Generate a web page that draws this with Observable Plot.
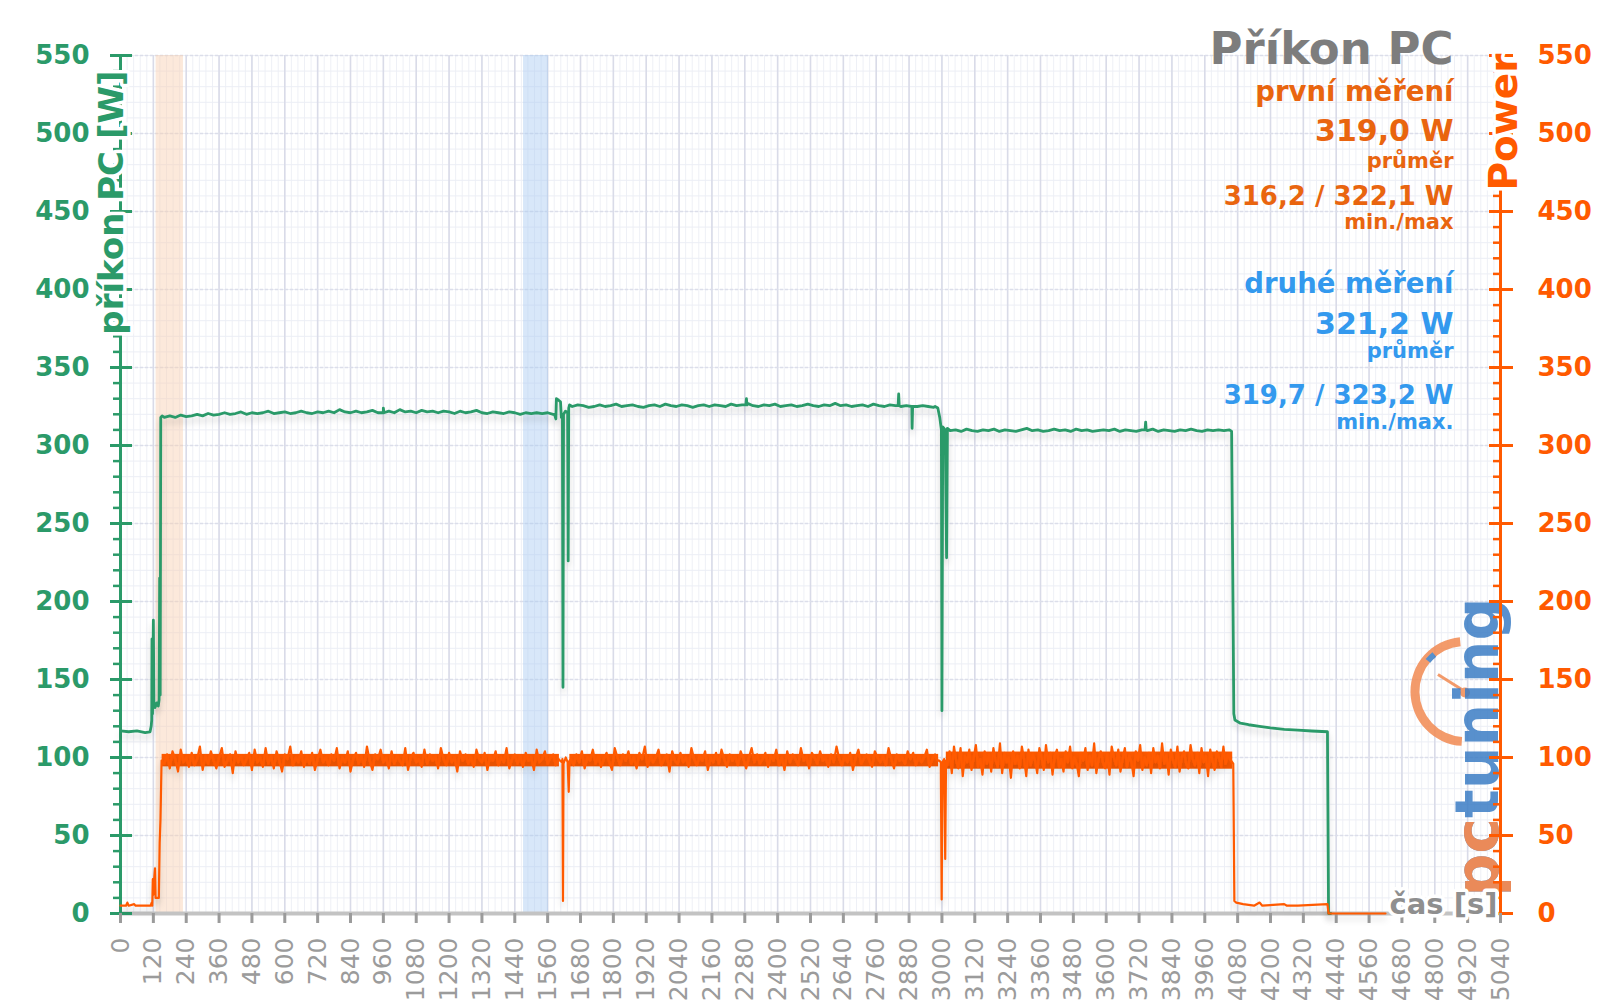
<!DOCTYPE html>
<html>
<head>
<meta charset="utf-8">
<script src="https://cdn.jsdelivr.net/npm/d3@7"></script>
<script src="https://cdn.jsdelivr.net/npm/@observablehq/plot@0.6"></script>
<style>
html, body { margin: 0; padding: 0; background: #ffffff; }
#chart svg { display: block; }
</style>
</head>
<body>
<div id="chart"></div>
<script>
// ---------- tick labels ----------
const xTicks = [0,120,240,360,480,600,720,840,960,1080,1200,1320,1440,1560,1680,1800,1920,2040,2160,2280,2400,2520,2640,2760,2880,3000,3120,3240,3360,3480,3600,3720,3840,3960,4080,4200,4320,4440,4560,4680,4800,4920,5040];
const yTicks = [0,50,100,150,200,250,300,350,400,450,500,550];

// ---------- highlighted intervals (s) ----------
const bandStarts = [130, 1472];
const bandEnds = [230, 1563];

// ---------- green series: příkon PC [W] ----------
const greenStart = [[0,117],[30,116.5],[60,117],[90,116],[108,116.5],[112,120],[114,124],[115,176],[117,128],[120,188],[122,134],[126,132],[132,135],[138,133],[141,137],[143,215],[145,140],[147,318],[152,319]];
const greenSeg1 = [318,319,318,319.5,318.5,319,320,319,320.5,319.5,
  320,321,320,320.5,321.5,320,321,320.5,321,322,
  320.5,321,321.5,320.5,321,322,321,320.5,321.5,321,
  322,321,323,321.5,321,322,321,321.5,322.5,321,
  321.5,322,321,323,321.5,322,321,322.5,321.5,322,
  321,322,321.5,320.5,322,321,321.5,322.5,321,320.5,
  321.5,321,320.5,321.5,321,320,321,320.5,321,320.5,
  321,320];
const greenEvent1 = [[1585,320],[1590,317],[1592,330],[1600,329],[1607,328],[1610,318],[1614,318],[1616,145],[1618,320],[1625,322],[1633,321],[1635,226],[1637,324],[1640,326]];
const greenSeg2 = [325,326,325.5,324.5,325,326,325,325.5,326.5,325,
  325.5,326,325,324.5,325.5,326,325,326.5,325.5,325,
  326,325.5,324.5,325.5,326,325,326,325.5,325,326.5,
  325.5,326,327,325.5,325,326,325.5,326.5,325,325.5,
  326,325,325.5,326.5,325.5,325,326,325.5,327,325.5,
  326,325,325.5,326,325,326.5,325.5,325,326,325.5,
  325,325.5,325,325,325.5,325,324.5];
const greenSpikes = [[958,321],[960,324],[962,321],[2284,326],[2286,330],[2288,326],[2840,325.5],[2842,333],[2844,325.5],[2889,325],[2891,311],[2893,325],[3742,310],[3744,315],[3746,310]];
const greenEvent2 = [[2975,325],[2985,324],[2992,318],[2998,310],[3000,130],[3003,312],[3012,310],[3017,228],[3020,311]];
const greenSeg3 = [309.5,310,309,310.5,309.5,309,310,309.5,310.5,309,
  310,309.5,309,310,311,309.5,310,309,309.5,310.5,
  309.5,310,309,310.5,309.5,310,309,309.5,310,309.5,
  310.5,309,310,309.5,309,310,309.5,310.5,309,310,
  309.5,309,310,309.5,310.5,309.5,309,310,309.5,310,
  309.5,310];
const greenTail = [[4058,309],[4063,200],[4066,128],[4070,124],[4090,122],[4120,121],[4160,120],[4200,119],[4250,118],[4300,117.5],[4350,117],[4408,116.5],[4412,0],[4420,0]];

// ---------- orange series: Power [W] ----------
const orangeStart = [[0,5],[20,5],[25,7],[30,5],[50,6],[55,5],[110,5],[114,7],[116,5],[118,22],[120,12],[122,20],[126,29],[128,10],[140,10],[143,45],[146,60],[150,98],[155,96]];
const orangeSeg1 = [96,102,93,104,99,91,105,97,100,94,
  103,95,99,107,92,101,96,104,98,93,
  100,106,94,98,102,90,104,97,101,95,
  99,103,92,105,97,100,94,106,96,101,
  93,104,98,91,102,99,107,95,100,97,
  104,94,101,96,103,92,99,105,97,100,
  95,102,98,106,93,100,97,104,91,99,
  103,96,101,94,107,98,92,102,99,105,
  97,100,93,104,96,101,98,95,106,92,
  100,103,97,99,94,105,96,102,98,101,
  93,106,99,95,103,97,100,91,104,98,
  102,96,100,94,105,99,97,103,92,101,
  98,104,95,100,97,106,93,99,102,96,
  101,94,103,98,100,92,105,97,99,104,
  96,100,102,95,99];
const orangeEvent1 = [[1605,98],[1612,97],[1614,99],[1616,8],[1618,96],[1626,100],[1633,97],[1637,78],[1640,98]];
const orangeSeg2 = [99,95,102,97,104,93,100,98,105,96,
  101,94,99,103,97,92,106,100,95,102,
  98,104,96,100,93,103,99,107,94,101,
  97,100,105,95,99,102,91,104,98,96,
  103,97,100,94,106,99,95,101,98,104,
  92,100,97,103,96,105,99,94,102,98,
  101,95,104,99,93,100,106,97,102,96,
  99,103,94,101,98,105,95,100,92,104,
  97,102,99,95,106,98,101,93,103,100,
  96,104,98,100,94,102,97,107,99,95,
  101,97,103,92,100,105,96,99,102,98,
  94,104,100,97,101,95,106,99,93,102,
  98,100,96,104,99,103,95,101,97,100,
  105,94,99,102,98];
const orangeEvent2 = [[2990,98],[2996,97],[2999,9],[3002,97],[3008,99],[3012,35],[3015,98]];
const orangeSeg3 = [95,104,90,107,98,93,106,88,101,97,
  105,92,100,108,94,99,89,104,96,102,
  91,106,98,94,109,90,103,97,100,87,
  104,96,101,93,107,99,88,105,95,102,
  98,90,106,100,92,108,97,103,89,101,
  105,94,99,91,104,97,107,93,100,96,
  88,103,98,106,92,101,95,109,90,99,
  104,97,93,102,89,107,100,95,105,91,
  99,106,94,101,97,88,104,98,108,92,
  100,95,103,90,106,97,101,93,109,96,
  102,89,105,98,94,107,91,100,104,96,
  93,108,99,95,103,90,106,97,101,88,
  105,98,92,104,100,94,107,96,102,99,
  97];
const orangeTail = [[4064,96],[4068,8],[4075,7],[4100,6],[4140,5],[4160,7],[4170,5],[4250,6],[4260,5],[4300,5],[4408,6],[4412,0],[4620,0]];
// dense core of the 1 s noise band
const orangeCoreStart = [152, 1641, 3016];
const orangeCoreEnd = [1603, 2988, 4062];
const orangeCoreLow = [94, 94, 92.5];
const orangeCoreHigh = [102, 102, 103.5];

// ---------- texts ----------
const titleText = "Příkon PC";
const firstLabel = "první měření";
const firstAvg = "319,0 W";
const avgLabel = "průměr";
const firstRange = "316,2 / 322,1 W";
const firstRangeLabel = "min./max";
const secondLabel = "druhé měření";
const secondAvg = "321,2 W";
const secondRange = "319,7 / 323,2 W";
const secondRangeLabel = "min./max.";
const yLeftLabel = "příkon PC [W]";
const yRightLabel = "Power";
const xLabel = "čas [s]";
const logoA = "pc";
const logoB = "pctuning";

// ---------- build ----------
const sampled = (start, step, values) => values.map((v, i) => ({t: start + i * step, v}));
const pairs = arr => arr.map(([t, v]) => ({t, v}));
const byT = (a, b) => a.t - b.t;

const green = [
  ...pairs(greenStart), ...sampled(160, 20, greenSeg1), ...pairs(greenEvent1),
  ...sampled(1650, 20, greenSeg2), ...pairs(greenSpikes), ...pairs(greenEvent2),
  ...sampled(3030, 20, greenSeg3), ...pairs(greenTail)
].sort(byT);
const orange = [
  ...pairs(orangeStart), ...sampled(160, 10, orangeSeg1), ...pairs(orangeEvent1),
  ...sampled(1645, 10, orangeSeg2), ...pairs(orangeEvent2),
  ...sampled(3020, 8, orangeSeg3), ...pairs(orangeTail)
].sort(byT);
const orangeCore = orangeCoreStart.map((s, i) => ({x1: s, x2: orangeCoreEnd[i], y1: orangeCoreLow[i], y2: orangeCoreHigh[i]}));
const bands = bandStarts.map((s, i) => ({start: s, end: bandEnds[i], kind: i}));

const GREEN = "#2b9a69";
const ORANGE = "#ff5a00";
const ORANGE_TXT = "#e9650f";
const BLUE_TXT = "#3399ee";
const GRAY_TXT = "#7d7d7d";
const FONT = "DejaVu Sans";

const M = {top: 55, right: 100, bottom: 95, left: 120};

function note(text, size, color, baseline) {
  return Plot.text([text], {
    frameAnchor: "top-right", textAnchor: "end", lineAnchor: "bottom",
    dx: -47, dy: baseline - M.top, fontSize: size, fontWeight: "bold", fill: color
  });
}

const noLabel = () => "";

const chart = Plot.plot({
  width: 1600,
  height: 1008,
  marginTop: M.top, marginRight: M.right, marginBottom: M.bottom, marginLeft: M.left,
  style: {fontFamily: FONT, background: "#ffffff", overflow: "visible"},
  x: {domain: [0, 5040], axis: null},
  y: {domain: [0, 550], axis: null},
  marks: [
    // minor grid
    Plot.ruleX(d3.range(24, 5040, 24), {stroke: "#eef0f6", strokeWidth: 1}),
    Plot.ruleY(d3.range(10, 551, 10), {stroke: "#eceef5", strokeWidth: 1}),
    // major grid
    Plot.ruleX(xTicks.slice(1), {stroke: "#d9dbe8", strokeWidth: 1.6}),
    Plot.ruleY(yTicks.slice(1), {stroke: "#dcdeea", strokeWidth: 1.5, strokeDasharray: "3,2"}),
    // highlighted intervals
    Plot.rect(bands, {x1: "start", x2: "end", fill: d => d.kind === 0 ? "#f9cfb0" : "#a9c9f2", fillOpacity: 0.45}),
    // logo watermark (under the axes)
    Plot.text([logoB], {frameAnchor: "bottom-right", rotate: -90, textAnchor: "start", lineAnchor: "bottom", dx: -3, dy: -17, fontSize: 60, fontWeight: "bold", fill: "#3b7dc4", fillOpacity: 0.85}),
    Plot.text([logoA], {frameAnchor: "bottom-right", rotate: -90, textAnchor: "start", lineAnchor: "bottom", dx: -3, dy: -17, fontSize: 60, fontWeight: "bold", fill: "#f28a52", fillOpacity: 0.95}),
    // axis lines
    Plot.ruleY([0], {stroke: "#c3c3c3", strokeWidth: 4}),
    Plot.ruleX([0], {stroke: GREEN, strokeWidth: 3}),
    Plot.ruleX([5040], {stroke: ORANGE, strokeWidth: 3}),
    // left axis
    Plot.axisY(d3.range(0, 551, 10), {anchor: "left", label: null, tickSize: 7, tickFormat: noLabel, color: GREEN, strokeWidth: 2.5}),
    Plot.axisY(yTicks, {anchor: "left", label: null, tickSize: -12, tickFormat: noLabel, color: GREEN, strokeWidth: 3}),
    Plot.axisY(yTicks, {anchor: "left", label: null, tickSize: 10, tickPadding: 21, color: GREEN, strokeWidth: 3, fontSize: 26, fontWeight: "bold", tickFormat: d => String(d)}),
    // right axis
    Plot.axisY(d3.range(0, 551, 10), {anchor: "right", label: null, tickSize: -8, tickFormat: noLabel, color: ORANGE, strokeWidth: 2.5}),
    Plot.axisY(yTicks, {anchor: "right", label: null, tickSize: -12, tickFormat: noLabel, color: ORANGE, strokeWidth: 3}),
    Plot.axisY(yTicks, {anchor: "right", label: null, tickSize: 12, tickPadding: 25, color: ORANGE, strokeWidth: 3, fontSize: 26, fontWeight: "bold", tickFormat: d => String(d)}),
    // bottom axis
    Plot.axisX(xTicks, {anchor: "bottom", label: null, tickSize: 10, tickPadding: 14, tickRotate: -90, color: "#9b9b9b", strokeWidth: 3, fontSize: 25, tickFormat: d => String(d)}),
    // data
    Plot.line(green, {x: "t", y: "v", stroke: GREEN, strokeWidth: 2.8}),
    Plot.rect(orangeCore, {x1: "x1", x2: "x2", y1: "y1", y2: "y2", fill: ORANGE}),
    Plot.line(orange, {x: "t", y: "v", stroke: ORANGE, strokeWidth: 2.2}),
    // axis titles
    Plot.text([yLeftLabel], {frameAnchor: "top-left", rotate: -90, textAnchor: "end", dx: -22, dy: 15, fontSize: 34, fontWeight: "bold", fill: GREEN, stroke: "#ffffff", strokeWidth: 7}),
    Plot.text([yRightLabel], {frameAnchor: "top-right", rotate: -90, textAnchor: "end", dx: -11, dy: -2, fontSize: 39, fontWeight: "bold", fill: ORANGE, stroke: "#ffffff", strokeWidth: 7}),
    Plot.text([xLabel], {frameAnchor: "bottom-right", textAnchor: "end", dx: -3, fontSize: 29, fontWeight: "bold", fill: "#8f8f8f", stroke: "#ffffff", strokeWidth: 7}),
    // title block
    note(titleText, 45, GRAY_TXT, 63),
    note(firstLabel, 27.5, ORANGE_TXT, 100),
    note(firstAvg, 30, ORANGE_TXT, 140),
    note(avgLabel, 21, ORANGE_TXT, 167),
    note(firstRange, 26, ORANGE_TXT, 204),
    note(firstRangeLabel, 21, ORANGE_TXT, 228),
    note(secondLabel, 27.5, BLUE_TXT, 292),
    note(secondAvg, 30, BLUE_TXT, 333),
    note(avgLabel, 21, BLUE_TXT, 357),
    note(secondRange, 26, BLUE_TXT, 403),
    note(secondRangeLabel, 21, BLUE_TXT, 428)
  ]
});

// subtle shadow under data lines
const defs = d3.select(chart).insert("defs", ":first-child");
const f = defs.append("filter").attr("id", "lineShadow").attr("x", "-5%").attr("y", "-20%").attr("width", "110%").attr("height", "140%");
f.append("feDropShadow").attr("dx", 0).attr("dy", 5).attr("stdDeviation", 3).attr("flood-color", "#000").attr("flood-opacity", 0.16);
d3.select(chart).selectAll('g[aria-label="line"]').attr("filter", "url(#lineShadow)");

// logo gauge (decoration), placed just before the logo text
const xs = chart.scale("x"), ys = chart.scale("y");
const cx = xs.apply(4912), cy = ys.apply(142), r = 50;
const firstText = chart.querySelector('g[aria-label="text"]');
const gauge = d3.select(chart).insert("g", () => firstText).attr("opacity", 0.85);
gauge.append("path")
  .attr("d", d3.arc()({innerRadius: r - 4.5, outerRadius: r + 4.5, startAngle: Math.PI * 1.02, endAngle: Math.PI * 1.97}))
  .attr("transform", `translate(${cx},${cy})`)
  .attr("fill", "#f28a52");
gauge.append("path")
  .attr("d", d3.arc()({innerRadius: r - 5, outerRadius: r + 1, startAngle: Math.PI * 1.72, endAngle: Math.PI * 1.78}))
  .attr("transform", `translate(${cx},${cy})`)
  .attr("fill", "#3b7dc4");
gauge.append("line").attr("x1", cx - 27).attr("y1", cy - 17).attr("x2", cx).attr("y2", cy).attr("stroke", "#f28a52").attr("stroke-width", 3);
gauge.append("circle").attr("cx", cx).attr("cy", cy + 1).attr("r", 5).attr("fill", "#f28a52");

document.getElementById("chart").append(chart);
</script>
</body>
</html>
